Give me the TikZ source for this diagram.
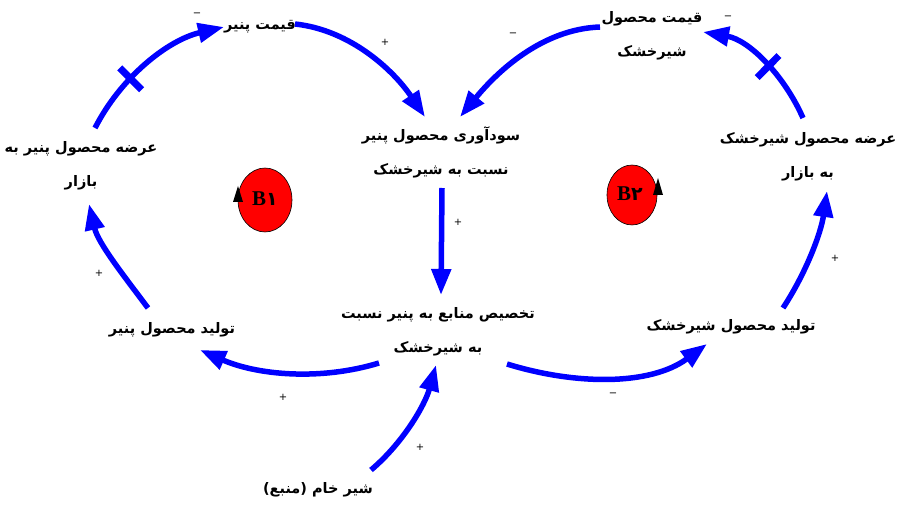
\documentclass[tikz,border=0pt]{standalone}
\usepackage{fontspec}
\usetikzlibrary{arrows.meta,calc}
\TeXXeTstate=1
\newfontfamily\fa[Script=Arabic]{DejaVu Sans}
\newfontfamily\dvs{DejaVu Sans}
\newfontfamily\lsf{Liberation Serif}
\newcommand\rl[1]{\beginR #1\endR}
\tikzset{
  lbl/.style={font=\fa\bfseries\fontsize{14.5}{34}\selectfont, align=center, inner sep=0pt},
  link/.style={draw=blue, line width=5.5pt, -{Triangle[length=26pt,width=19pt]}},
  sgn/.style={font=\dvs\fontsize{10}{10}\selectfont, inner sep=0pt},
  delaybar/.style={fill=blue, minimum width=7pt, minimum height=31pt, inner sep=0pt, sloped, draw=none},
  loopc/.style={fill=red, draw=black, line width=0.6pt},
  looplbl/.style={inner sep=0pt},
}
\begin{document}
\begin{tikzpicture}[x=1pt,y=-1pt]
\useasboundingbox (0,0) rectangle (898,508);
% nodes
\node[lbl] (qp)    at (260,27)  {\rl{قیمت پنیر}};
\node[lbl] (prof)  at (441,152) {\rl{سودآوری محصول پنیر}\\\rl{نسبت به شیرخشک}};
\node[lbl] (supC)  at (81,166)  {\rl{عرضه محصول پنیر به}\\\rl{بازار}};
\node[lbl] (prodC) at (172,330) {\rl{تولید محصول پنیر}};
\node[lbl] (alloc) at (438,332) {\rl{تخصیص منابع به پنیر نسبت}\\\rl{به شیرخشک}};
\node[lbl] (prodP) at (731,327) {\rl{تولید محصول شیرخشک}};
\node[lbl] (supP)  at (808,157) {\rl{عرضه محصول شیرخشک}\\\rl{به بازار}};
\node[lbl] (priceP) at (652,36) {\rl{قیمت محصول}\\\rl{شیرخشک}};
\node[lbl] (raw)   at (318,490) {\rl{شیر خام (منبع)}};
% connector end points
\coordinate (a1s) at (95,128);  \coordinate (a1e) at (224,27);
\coordinate (a2s) at (295,24);  \coordinate (a2e) at (425,117);
\coordinate (a3s) at (442,188); \coordinate (a3e) at (441,295);
\coordinate (a4s) at (379,363); \coordinate (a4e) at (200,350);
\coordinate (a5s) at (148,308); \coordinate (a5e) at (89,204);
\coordinate (a6s) at (371,470); \coordinate (a6e) at (436,365);
\coordinate (a7s) at (507,364); \coordinate (a7e) at (707,344);
\coordinate (a8s) at (783,308); \coordinate (a8e) at (827,191);
\coordinate (a9s) at (803,118); \coordinate (a9e) at (703,32);
\coordinate (a10s) at (600,27); \coordinate (a10e) at (460,117);
% connectors
\draw[link] (a1s) .. controls (121,77) and (168,40) .. node[delaybar,pos=0.36] (d1) {} (a1e);
\draw[link] (a2s) .. controls (351,30) and (394,71) .. (a2e);
\draw[link] (a3s) -- (a3e);
\draw[link] (a4s) .. controls (320,381) and (257,375) .. (a4e);
\draw[link] (a5s) .. controls (124,276) and (98,243) .. (a5e);
\draw[link] (a6s) .. controls (403,443) and (425,405) .. (a6e);
\draw[link] (a7s) .. controls (575,385) and (650,386) .. (a7e);
\draw[link] (a8s) .. controls (806,273) and (821,233) .. (a8e);
\draw[link] (a9s) .. controls (784,75) and (749,40) .. node[delaybar,pos=0.45] (d2) {} (a9e);
\draw[link] (a10s) .. controls (542,29) and (497,72) .. (a10e);
% polarity signs
\node[sgn] (s1) at (197,15) {−};
\node[sgn] (s2) at (385,42) {+};
\node[sgn] (s3) at (458,222) {+};
\node[sgn] (s4) at (283,397) {+};
\node[sgn] (s5) at (99,273) {+};
\node[sgn] (s6) at (420,447) {+};
\node[sgn] (s7) at (613,395) {−};
\node[sgn] (s8) at (835,258) {+};
\node[sgn] (s9) at (728,18) {−};
\node[sgn] (s10) at (513,35) {−};
% loop markers
\draw[loopc] (265,200) ellipse [x radius=27, y radius=32];
\fill[black] (233,202) -- (243,202) -- (238,186) -- cycle;
\node[looplbl] (b1) at (265,199) {{\lsf\bfseries\fontsize{21}{21}\selectfont B}{\fa\bfseries\fontsize{19}{19}\selectfont ۱}};
\draw[loopc] (632,195) ellipse [x radius=25, y radius=30];
\fill[black] (653,195) -- (663,195) -- (658,178) -- cycle;
\node[looplbl] (b2) at (630,194) {{\lsf\bfseries\fontsize{21}{21}\selectfont B}{\fa\bfseries\fontsize{19}{19}\selectfont ۲}};
\end{tikzpicture}
\end{document}
